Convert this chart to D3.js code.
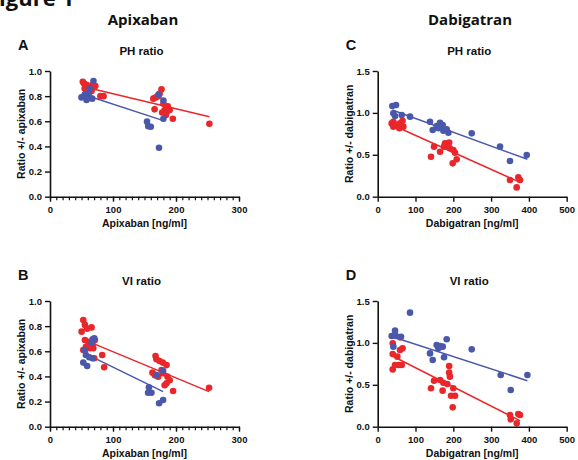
<!DOCTYPE html>
<html><head><meta charset="utf-8">
<script src="https://cdn.jsdelivr.net/npm/d3@7"></script>
<style>body{margin:0;background:#fff;}svg{display:block;}</style>
</head><body>
<svg id="c" width="578" height="460"></svg>
<script>
// ---- Data ----
const panelLetters = ["A", "B", "C", "D"];
const panelSubtitles = ["PH ratio", "VI ratio", "PH ratio", "VI ratio"];
const drugTitles = ["Apixaban", "Dabigatran"];
const yLabels = ["Ratio +/- apixaban", "Ratio +/- dabigatran"];
const xLabels = ["Apixaban [ng/ml]", "Dabigatran [ng/ml]"];
const apixXTicks = [0, 100, 200, 300];
const apixYTicks = [0.0, 0.2, 0.4, 0.6, 0.8, 1.0];
const dabiXTicks = [0, 100, 200, 300, 400, 500];
const dabiYTicks = [0.0, 0.5, 1.0, 1.5];

// Panel A: apixaban PH ratio
const aRed = [[52,0.915],[54,0.90],[56,0.88],[58,0.89],[60,0.86],[62,0.85],[55,0.86],[64,0.88],[66,0.87],[68,0.89],[70,0.87],[72,0.88],[58,0.84],[66,0.84],[80,0.80],[85,0.80],
  [164,0.78],[168,0.79],[172,0.80],[174,0.82],[177,0.855],[166,0.695],[180,0.74],[182,0.69],[185,0.67],[187,0.72],[190,0.69],[184,0.65],[178,0.67],[195,0.62],[253,0.58]];
const aBlue = [[50,0.79],[55,0.81],[58,0.77],[61,0.82],[63,0.79],[63,0.86],[67,0.78],[69,0.92],
  [172,0.81],[180,0.765],[180,0.62],[154,0.597],[156,0.56],[160,0.557],[173,0.39]];
const aRedLine = [[52,0.877],[253,0.636]];
const aBlueLine = [[52,0.815],[180,0.605]];

// Panel B: apixaban VI ratio
const bRed = [[52.8,0.849],[50.2,0.756],[55.4,0.81],[59,0.78],[66,0.79],[55.4,0.69],[60.8,0.676],[57,0.636],[52.8,0.61],[63.4,0.624],[68.7,0.624],[71.3,0.69],[67.6,0.65],[70.2,0.545],[82.9,0.57],[86,0.473],
  [167.5,0.562],[169,0.536],[174,0.523],[179,0.51],[185,0.49],[162.7,0.43],[166.4,0.41],[171.6,0.398],[177,0.45],[179.5,0.425],[186.5,0.398],[190,0.37],[185,0.345],[182,0.33],[195.4,0.284],[252.5,0.31]];
const bBlue = [[52.8,0.51],[59,0.483],[55.4,0.61],[57,0.57],[62.3,0.552],[67.6,0.544],[67.6,0.695],[70.2,0.703],[66,0.668],
  [157,0.313],[155.7,0.27],[161,0.27],[169.1,0.41],[179.5,0.445],[173.2,0.186],[179.5,0.212]];
const bRedLine = [[52.8,0.695],[252.5,0.279]];
const bBlueLine = [[52.8,0.589],[179.5,0.279]];

// Panel C: dabigatran PH ratio
const cRed = [[37,0.875],[41.4,0.836],[48.5,0.856],[52.9,0.844],[59,0.875],[65.7,0.907],[57.3,0.816],[67.9,0.836],[41.4,0.895],
  [141,0.477],[149,0.597],[165,0.537],[175.5,0.597],[178,0.637],[184,0.617],[191,0.577],[189,0.645],[200,0.557],[204.6,0.525],[198.4,0.398],[209,0.446],
  [350,0.199],[372,0.231],[376.5,0.199],[367.7,0.111]];
const cBlue = [[38.8,1.082],[48.5,1.094],[41.4,0.995],[45.9,0.963],[63.5,0.975],[85.5,0.955],[138.4,0.895],[145.5,0.796],[160.5,0.816],[164.9,0.883],[156,0.844],[172,0.855],[173.7,0.788],[182.5,0.804],[187,0.764],
  [248.7,0.756],[323.6,0.597],[350,0.426],[394.2,0.497]];
const cRedLine = [[38.8,0.855],[376.5,0.171]];
const cBlueLine = [[38.8,1.035],[396,0.446]];

// Panel D: dabigatran VI ratio
const dRed = [[39.7,0.995],[39.7,0.867],[39.7,0.684],[45.9,0.736],[54.7,0.736],[63.5,0.736],[52,0.836],[59,0.915],[65.7,0.935],[59,1.066],
  [141,0.458],[149,0.549],[165,0.557],[173.7,0.525],[184,0.509],[171.7,0.43],[189,0.724],[189,0.645],[191,0.597],[200,0.458],[204.6,0.37],[194,0.37],[198.4,0.231],
  [350,0.139],[352,0.088],[372,0.151],[376.5,0.139],[367.7,0.04]];
const dBlue = [[85.5,1.361],[45.9,1.146],[37,1.082],[48.5,1.082],[41.4,0.955],[61.7,1.074],[138.4,0.875],[145.5,0.796],[156,0.975],[164.9,0.963],[172,0.955],[160.5,0.935],[182.5,1.043],[175.5,0.828],
  [248.7,0.923],[325.4,0.617],[351.9,0.438],[396,0.617]];
const dRedLine = [[38.8,0.844],[376.5,0.072]];
const dBlueLine = [[38.8,1.074],[396,0.549]];

// ---- Drawing ----
const RED = "#e9272b", BLUE = "#4a58ac";
const svg = d3.select("#c");
const axisFont = "'Liberation Sans', Arial, sans-serif";
const titleFont = "'Open Sans', 'Liberation Sans', sans-serif";

svg.append("text").attr("x", -13).attr("y", 6).attr("font-family", titleFont)
  .attr("font-weight", 700).attr("font-size", 22).attr("fill", "#111").text("Figure 1");
svg.append("text").attr("x", 143).attr("y", 25).attr("text-anchor", "middle").attr("font-family", titleFont)
  .attr("font-weight", 700).attr("font-size", 15).attr("fill", "#111").text(drugTitles[0]);
svg.append("text").attr("x", 470).attr("y", 25).attr("text-anchor", "middle").attr("font-family", titleFont)
  .attr("font-weight", 700).attr("font-size", 15).attr("fill", "#111").text(drugTitles[1]);

const panels = [
  {letter: panelLetters[0], sub: panelSubtitles[0], drug: 0, left: 50, top: 71, red: aRed, blue: aBlue, rl: aRedLine, bl: aBlueLine},
  {letter: panelLetters[1], sub: panelSubtitles[1], drug: 0, left: 50, top: 301, red: bRed, blue: bBlue, rl: bRedLine, bl: bBlueLine},
  {letter: panelLetters[2], sub: panelSubtitles[2], drug: 1, left: 377.7, top: 71, red: cRed, blue: cBlue, rl: cRedLine, bl: cBlueLine},
  {letter: panelLetters[3], sub: panelSubtitles[3], drug: 1, left: 377.7, top: 301, red: dRed, blue: dBlue, rl: dRedLine, bl: dBlueLine}
];
const W = 189, H = 125.7;

panels.forEach(p => {
  const apix = p.drug === 0;
  const x = d3.scaleLinear().domain(apix ? [0, 300] : [0, 500]).range([p.left, p.left + W]);
  const y = d3.scaleLinear().domain(apix ? [0, 1.0] : [0, 1.5]).range([p.top + H, p.top]);
  const g = svg.append("g");
  const cx = p.left + W / 2;

  g.append("text").attr("x", p.left - 32).attr("y", p.top - 21).attr("font-family", axisFont)
    .attr("font-weight", 700).attr("font-size", 14.5).attr("fill", "#111").text(p.letter);
  g.append("text").attr("x", cx - 3).attr("y", p.top - 16).attr("text-anchor", "middle").attr("font-family", axisFont)
    .attr("font-weight", 700).attr("font-size", 11.5).attr("fill", "#111").text(p.sub);

  const line = d3.line().x(d => x(d[0])).y(d => y(d[1]));
  g.append("path").attr("d", line(p.rl)).attr("stroke", RED).attr("stroke-width", 1.5).attr("fill", "none");
  g.append("path").attr("d", line(p.bl)).attr("stroke", BLUE).attr("stroke-width", 1.5).attr("fill", "none");

  g.selectAll(".r").data(p.red).join("circle").attr("cx", d => x(d[0])).attr("cy", d => y(d[1])).attr("r", 3.3).attr("fill", RED);
  g.selectAll(".b").data(p.blue).join("circle").attr("cx", d => x(d[0])).attr("cy", d => y(d[1])).attr("r", 3.3).attr("fill", BLUE);

  const xTicks = apix ? apixXTicks : dabiXTicks;
  const yTicks = apix ? apixYTicks : dabiYTicks;
  if (apix) {
    const minor = d3.axisBottom(x).ticks(30).tickSize(3.5).tickFormat("");
    const mg = g.append("g").attr("transform", `translate(0,${p.top + H})`).call(minor);
    mg.select(".domain").remove();
    mg.selectAll("line").attr("stroke", "#111").attr("stroke-width", 1.2);
  }
  const xa = g.append("g").attr("transform", `translate(0,${p.top + H})`)
    .call(d3.axisBottom(x).tickValues(xTicks).tickSize(5).tickSizeOuter(0).tickFormat(d3.format("d")));
  const ya = g.append("g").attr("transform", `translate(${p.left},0)`)
    .call(d3.axisLeft(y).tickValues(yTicks).tickSize(5).tickSizeOuter(0).tickFormat(d3.format(".1f")));
  [xa, ya].forEach(a => {
    a.select(".domain").attr("stroke", "#111").attr("stroke-width", 1.6);
    a.selectAll(".tick line").attr("stroke", "#111").attr("stroke-width", 1.4);
    a.selectAll("text").attr("font-family", axisFont).attr("font-weight", 700).attr("font-size", 9.5).attr("fill", "#111");
  });
  xa.selectAll("text").attr("dy", "0.9em");

  g.append("text").attr("x", cx).attr("y", p.top + H + 30).attr("text-anchor", "middle").attr("font-family", axisFont)
    .attr("font-weight", 700).attr("font-size", 10.5).attr("fill", "#111").text(xLabels[p.drug]);
  g.append("text").attr("transform", `translate(${p.left - 25},${p.top + H / 2}) rotate(-90)`).attr("text-anchor", "middle")
    .attr("font-family", axisFont).attr("font-weight", 700).attr("font-size", 10.5).attr("fill", "#111").text(yLabels[p.drug]);
});
</script>
</body></html>
